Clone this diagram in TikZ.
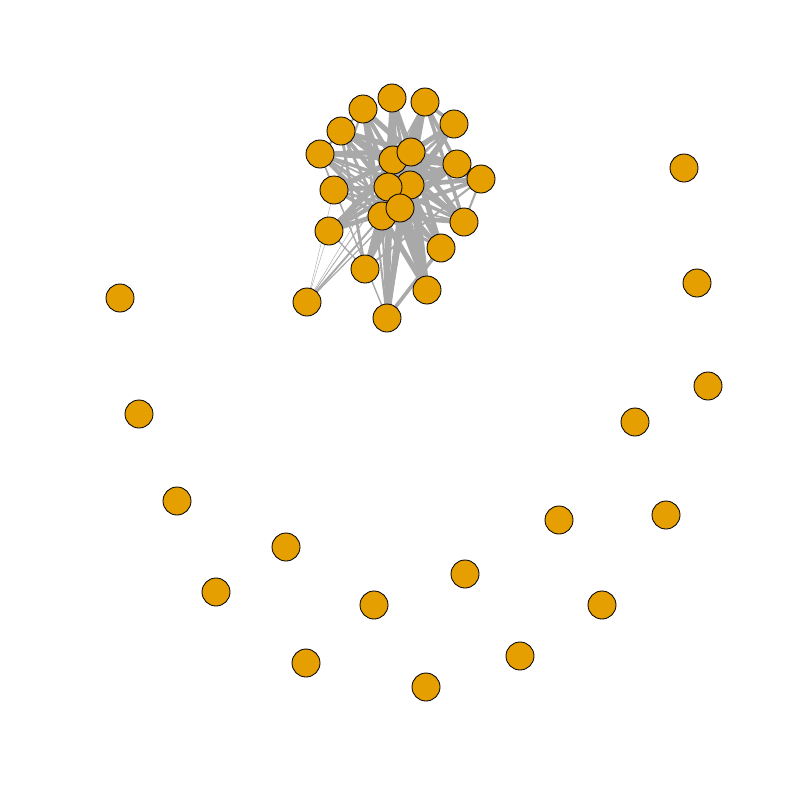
\documentclass[tikz,border=0pt]{standalone}
\usetikzlibrary{positioning,backgrounds}
\definecolor{vertexOrange}{HTML}{E69F00}
\definecolor{tieGrey}{HTML}{A9A9A9}
\tikzset{
  actor/.style={circle, draw=black, line width=0.6pt, fill=vertexOrange,
                minimum size=7mm, inner sep=0pt},
  tie/.style={draw=tieGrey, line cap=butt}
}
\begin{document}
\begin{tikzpicture}[x=0.25mm, y=-0.25mm]
\useasboundingbox (0,0) rectangle (800,800);
% cluster: rim first, hubs 1-6 on top
\foreach \n/\x/\y in {7/392/98, 8/425/102, 9/363/109, 10/454/124, 11/341/131,
  12/320/154, 13/457/164, 14/481/179, 15/334/190, 16/464/222, 17/329/231,
  18/441/248, 19/365/269, 20/427/290, 21/387/318, 22/307/302,
  1/393/160, 2/411/152, 3/410/185, 4/388/187, 5/382/216, 6/400/208}
  \node[actor] (n\n) at (\x,\y) {};
% isolated members
\foreach \n/\x/\y in {1/684/168, 2/697/283, 3/120/298, 4/708/386, 5/139/414,
  6/635/422, 7/177/501, 8/559/520, 9/666/515, 10/286/547, 11/465/574,
  12/216/592, 13/374/605, 14/602/605, 15/306/663, 16/520/656, 17/426/687}
  \node[actor] (s\n) at (\x,\y) {};
% ties
\begin{scope}[on background layer]
% hubs to everyone
\foreach \i in {1,...,6}{
  \pgfmathtruncatemacro\k{\i+1}
  \foreach \j in {\k,...,21}{
    \pgfmathsetmacro\w{1.2+2.6*mod(\i*17+\j*29+\i*\j*3,7)/6}
    \draw[tie, line width=\w pt] (n\i.center) -- (n\j.center);
  }
}
% rim to rim, sparse
\foreach \i in {7,...,20}{
  \pgfmathtruncatemacro\k{\i+1}
  \foreach \j in {\k,...,21}{
    \pgfmathtruncatemacro\keep{mod(\i*7+\j*11+\i*\j,3)==0}
    \ifnum\keep=1
      \pgfmathsetmacro\w{0.4+2.2*mod(\i*13+\j*5,5)/4}
      \draw[tie, line width=\w pt] (n\i.center) -- (n\j.center);
    \fi
  }
}
\foreach \j/\w in {1/0.3, 2/0.3, 3/0.3, 4/0.4, 5/1.4, 6/0.9, 15/0.3, 17/0.3}
  \draw[tie, line width=\w pt] (n22.center) -- (n\j.center);
\end{scope}
\end{tikzpicture}
\end{document}
